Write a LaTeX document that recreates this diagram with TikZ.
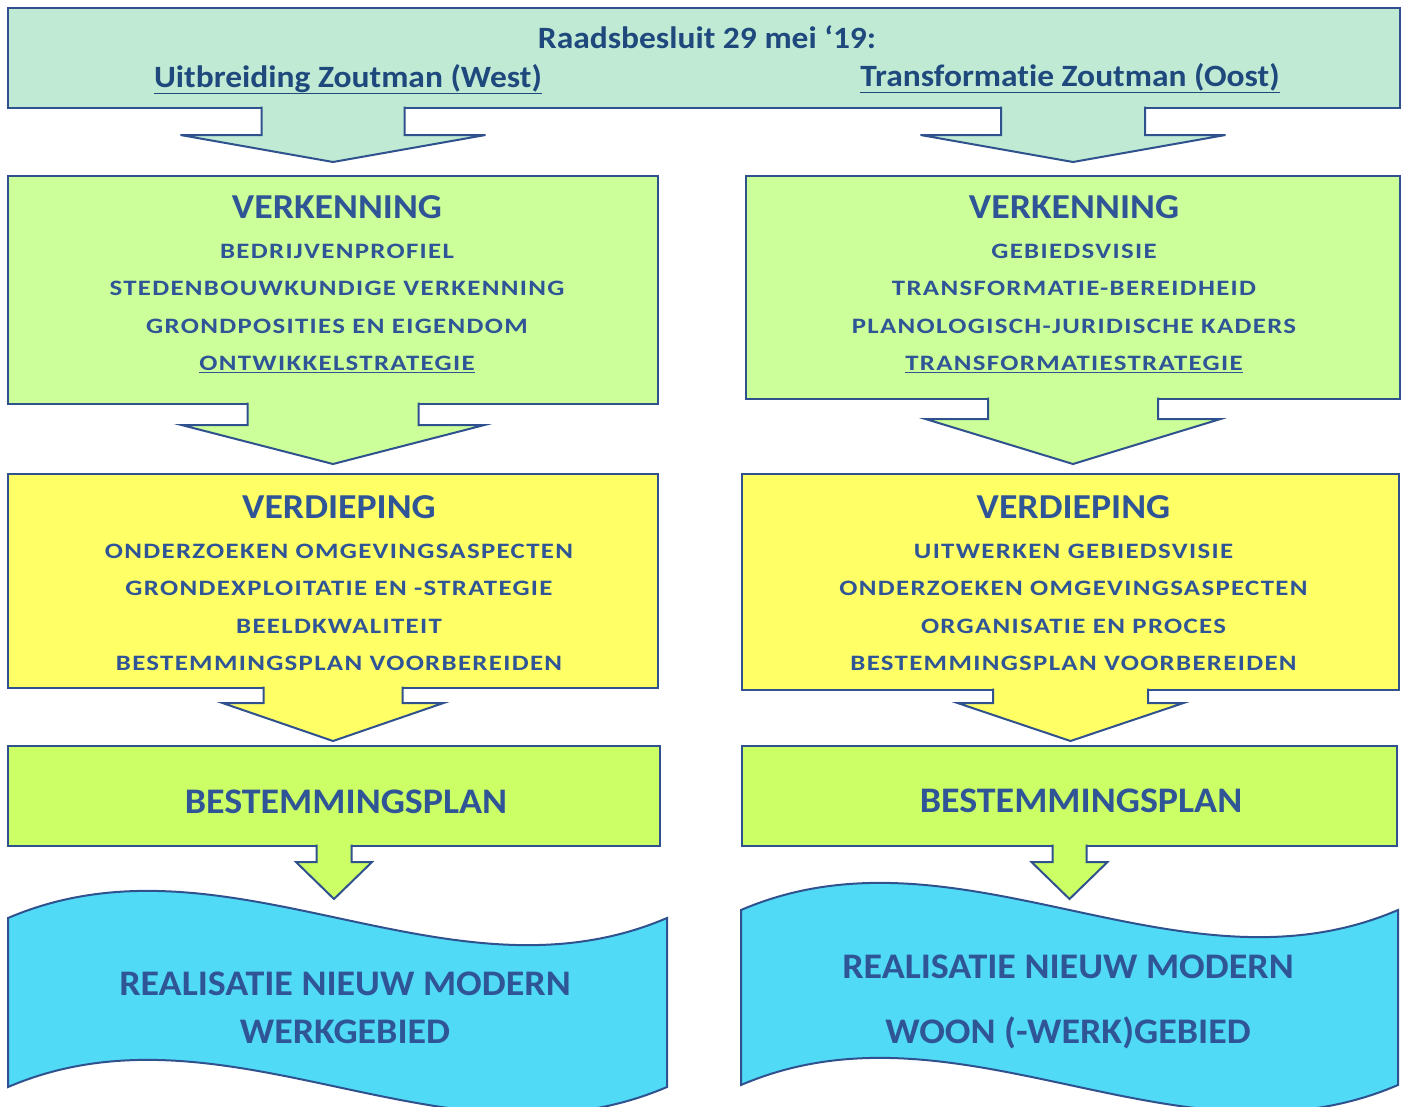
\documentclass[tikz,border=0pt]{standalone}
\usepackage{fontspec}
\setmainfont{Carlito}
\newfontfamily\titlefamily{Carlito}[FakeStretch=1.08, Ligatures=NoCommon]
\newfontfamily\headfamily{Carlito}[FakeStretch=1.08, Ligatures=NoCommon]
\newfontfamily\itemfamily{Carlito}[FakeStretch=1.22, LetterSpace=6, Ligatures=NoCommon]
\newfontfamily\bigfamily{Carlito}[FakeStretch=1.055, Ligatures=NoCommon]
\usetikzlibrary{calc,positioning}
\definecolor{outline}{RGB}{47,82,143}
\definecolor{ink}{RGB}{47,85,151}
\definecolor{titleink}{RGB}{31,73,125}
\definecolor{mint}{RGB}{192,234,212}
\definecolor{lightlime}{RGB}{204,255,153}
\definecolor{lemon}{RGB}{255,255,102}
\definecolor{lime}{RGB}{204,255,102}
\definecolor{sky}{RGB}{80,218,245}
\newcommand{\titlefont}{\titlefamily\bfseries\fontsize{31}{36}\selectfont}
\newcommand{\headfont}{\headfamily\bfseries\fontsize{35}{40}\selectfont}
\newcommand{\itemfont}{\itemfamily\bfseries\fontsize{22}{37.5}\selectfont}
\newcommand{\bigfont}{\bigfamily\bfseries\fontsize{36}{48}\selectfont}
% block arrow from the bottom of one box down to a tip
\newcommand{\blockarrow}[6]{%
  \draw[blockline, fill=#6] let \p1=(#1), \p2=(#2) in
    (\x1-#3pt,\y1+1.5pt) -- (\x1-#3pt,\y2+#5pt) -- (\x1-#4pt,\y2+#5pt) -- (\x1,\y2)
    -- (\x1+#4pt,\y2+#5pt) -- (\x1+#3pt,\y2+#5pt) -- (\x1+#3pt,\y1+1.5pt);
}

\begin{document}
\begin{tikzpicture}[x=1pt, y=-1pt,
    stage/.style={draw=outline, line width=2pt, inner sep=0pt, outer sep=0pt},
    blockline/.style={draw=outline, line width=2pt, line join=miter},
    steptext/.style={text=ink, font=\itemfont, align=center, inner sep=0pt, anchor=north},
    titletext/.style={text=titleink, font=\titlefont, inner sep=0pt, anchor=base},
    bigtext/.style={text=ink, font=\bigfont, align=center, inner sep=0pt, anchor=north}]
    \useasboundingbox (0,0) rectangle (1405,1106);
    \clip (0,0) rectangle (1405,1106);

    % Raadsbesluit
    \node[stage, fill=mint, minimum width=1392, minimum height=100] (besluit) at (704,58) {};
    \node[titletext] (besluittitle) at (707,48) {Raadsbesluit 29 mei ‘19:};
    \node[titletext] (westtitle) at (348,87) {\underline{Uitbreiding Zoutman (West)}};
    \node[titletext] (oosttitle) at (1070,86) {\underline{Transformatie Zoutman (Oost)}};

    % West
    \node[stage, fill=lightlime, minimum width=650, minimum height=228] (wverk) at (333,290) {};
    \node[steptext, below=19pt of wverk.north, xshift=4pt] (wverktext)
        {{\headfont VERKENNING}\\[2.5pt] BEDRIJVENPROFIEL\\ STEDENBOUWKUNDIGE VERKENNING\\
         GRONDPOSITIES EN EIGENDOM\\ \underline{ONTWIKKELSTRATEGIE}};
    \node[stage, fill=lemon, minimum width=650, minimum height=214] (wverd) at (333,581) {};
    \node[steptext, below=21pt of wverd.north, xshift=6pt] (wverdtext)
        {{\headfont VERDIEPING}\\[2.5pt] ONDERZOEKEN OMGEVINGSASPECTEN\\ GRONDEXPLOITATIE EN -STRATEGIE\\
         BEELDKWALITEIT\\ BESTEMMINGSPLAN VOORBEREIDEN};
    \node[stage, fill=lime, minimum width=652, minimum height=100] (wbest) at (334,796) {};
    \node[text=ink, font=\bigfont, inner sep=0pt, anchor=base] (wbesttext) at (346,813) {BESTEMMINGSPLAN};
    \draw[blockline, fill=sky] (8,918) .. controls (228,824) and (447,1012) .. (667,918)
        -- (667,1087) .. controls (447,1181) and (228,993) .. (8,1087) -- cycle;
    \node[bigtext] (wwavetext) at (345,972) {REALISATIE NIEUW MODERN\\ WERKGEBIED};
    \coordinate (wwavetop) at (334,899);

    % Oost
    \node[stage, fill=lightlime, minimum width=654, minimum height=223] (everk) at (1073,287.5) {};
    \node[steptext, below=19pt of everk.north, xshift=1pt] (everktext)
        {{\headfont VERKENNING}\\[2.5pt] GEBIEDSVISIE\\ TRANSFORMATIE-BEREIDHEID\\
         PLANOLOGISCH-JURIDISCHE KADERS\\ \underline{TRANSFORMATIESTRATEGIE}};
    \node[stage, fill=lemon, minimum width=657, minimum height=216] (everd) at (1070.5,582) {};
    \node[steptext, below=21pt of everd.north, xshift=3pt] (everdtext)
        {{\headfont VERDIEPING}\\[2.5pt] UITWERKEN GEBIEDSVISIE\\ ONDERZOEKEN OMGEVINGSASPECTEN\\
         ORGANISATIE EN PROCES\\ BESTEMMINGSPLAN VOORBEREIDEN};
    \node[stage, fill=lime, minimum width=655, minimum height=100] (ebest) at (1069.5,796) {};
    \node[text=ink, font=\bigfont, inner sep=0pt, anchor=base] (ebesttext) at (1081,812) {BESTEMMINGSPLAN};
    \draw[blockline, fill=sky] (741,910) .. controls (960,816) and (1179,1004) .. (1398,910)
        -- (1398,1085) .. controls (1179,1179) and (960,991) .. (741,1085) -- cycle;
    \node[bigtext] (ewavetext) at (1068,955) {REALISATIE NIEUW MODERN\\[17pt] WOON (-WERK)GEBIED};
    \coordinate (ewavetop) at (1070,899);

    % Pijlen
    \blockarrow{wverk.north |- besluit.south}{$(wverk.north)+(0,-14)$}{71.5}{152.5}{27}{mint}
    \blockarrow{everk.north |- besluit.south}{$(everk.north)+(0,-14)$}{72}{152.5}{27}{mint}
    \blockarrow{wverk.south}{$(wverd.north)+(0,-10)$}{85.5}{151.5}{39}{lightlime}
    \blockarrow{everk.south}{$(everd.north)+(0,-10)$}{85}{147.5}{45}{lightlime}
    \blockarrow{wverd.south}{$(wbest.north)+(0,-5)$}{69.5}{110.5}{38}{lemon}
    \blockarrow{everd.south}{$(ebest.north)+(0,-5)$}{77.5}{113}{38}{lemon}
    \blockarrow{wbest.south}{wwavetop}{17.5}{38}{37}{lime}
    \blockarrow{ebest.south}{ewavetop}{17}{38}{37}{lime}
\end{tikzpicture}
\end{document}
